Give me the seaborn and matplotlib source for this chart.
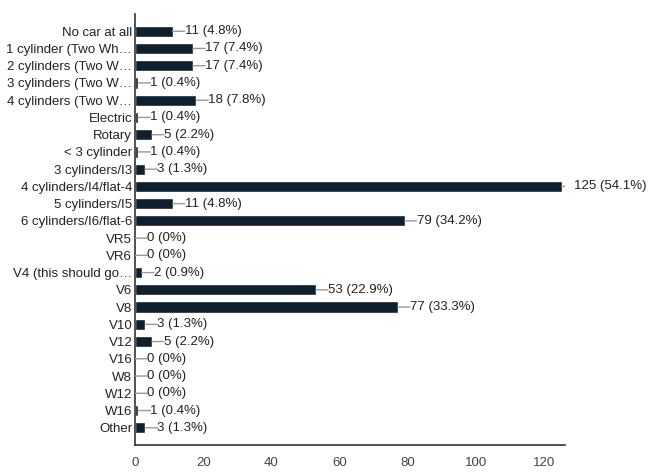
import matplotlib
matplotlib.use('Agg')
import matplotlib.pyplot as plt
import seaborn as sns
import pandas as pd

categories = [
    "No car at all", "1 cylinder (Two Wh\u2026", "2 cylinders (Two W\u2026",
    "3 cylinders (Two W\u2026", "4 cylinders (Two W\u2026", "Electric", "Rotary",
    "< 3 cylinder", "3 cylinders/I3", "4 cylinders/I4/flat-4", "5 cylinders/I5",
    "6 cylinders/I6/flat-6", "VR5", "VR6", "V4 (this should go\u2026", "V6", "V8",
    "V10", "V12", "V16", "W8", "W12", "W16", "Other",
]
counts = [11, 17, 17, 1, 18, 1, 5, 1, 3, 125, 11, 79, 0, 0, 2, 53, 77, 3, 5, 0, 0, 0, 1, 3]
percents = ["4.8%", "7.4%", "7.4%", "0.4%", "7.8%", "0.4%", "2.2%", "0.4%", "1.3%",
            "54.1%", "4.8%", "34.2%", "0%", "0%", "0.9%", "22.9%", "33.3%", "1.3%",
            "2.2%", "0%", "0%", "0%", "0.4%", "1.3%"]
x_ticks = [0, 20, 40, 60, 80, 100, 120]

sns.set_theme(style='white')
plt.rcParams['font.family'] = ['Liberation Sans', 'DejaVu Sans']

W, H = 655, 475
fig = plt.figure(figsize=(W / 100, H / 100), dpi=100)
ax = fig.add_axes([135 / W, 1 - 445 / H, 430 / W, 431 / H])

df = pd.DataFrame({'category': categories, 'count': counts})
sns.barplot(data=df, x='count', y='category', orient='h', color='#0e1f2d',
            saturation=1, width=0.65, ax=ax)

ax.set_xlim(0, 126)
ax.set_ylim(len(categories), -1)
ax.set_xticks(x_ticks)
ax.set_xlabel('')
ax.set_ylabel('')

for i, (c, p) in enumerate(zip(counts, percents)):
    ln = ax.annotate('', xy=(c, i), xytext=(12, 0), textcoords='offset pixels',
                     annotation_clip=False,
                     arrowprops=dict(arrowstyle='-', color='#999999', lw=1,
                                     shrinkA=0, shrinkB=0))
    ln.arrow_patch.set_clip_box(ax.bbox)
    ln.arrow_patch.set_clip_on(True)
    ax.annotate(f"{c} ({p})", xy=(c, i), xytext=(12, 0), textcoords='offset pixels',
                ha='left', va='center', fontsize=9.5, color='#222222',
                annotation_clip=False)

for s in ['top', 'right']:
    ax.spines[s].set_visible(False)
for s in ['left', 'bottom']:
    ax.spines[s].set_color('#333333')
    ax.spines[s].set_linewidth(1.2)

ax.tick_params(axis='y', length=0, pad=2, labelsize=9.5, labelcolor='#222222')
ax.tick_params(axis='x', length=0, pad=9, labelsize=9.5, labelcolor='#444444')

fig.savefig('out.png', dpi=100)
